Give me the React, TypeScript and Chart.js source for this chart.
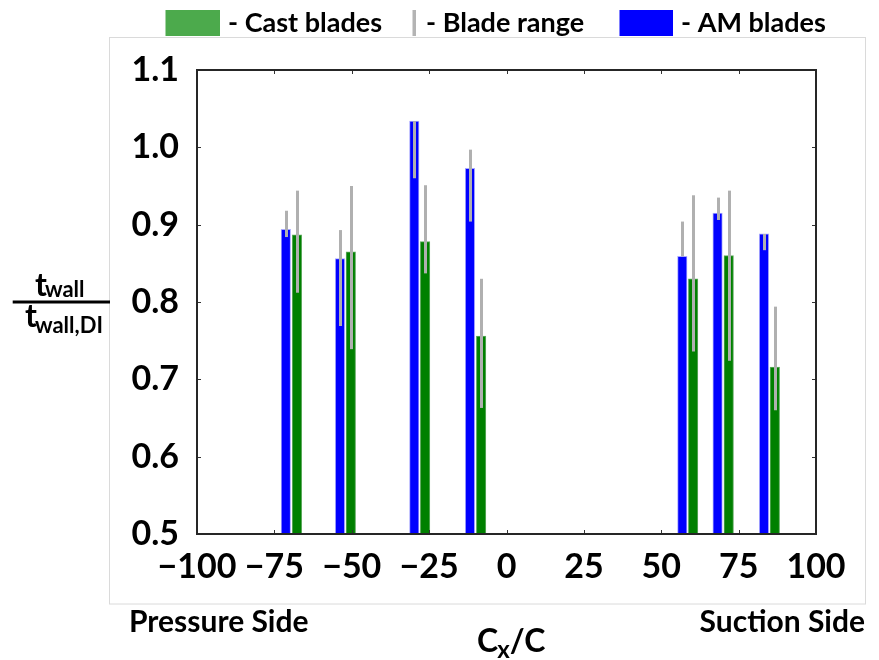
import { useEffect, useRef } from 'react';
import { Chart, registerables } from 'chart.js';

Chart.register(...registerables);

// ---- data ----
const amX = [-71.3, -53.8, -29.8, -11.8, 56.8, 68.2, 83.2];
const castX = [-67.7, -50.3, -26.3, -8.2, 60.3, 71.8, 86.7];

const amValues = [0.894, 0.856, 1.034, 0.973, 0.859, 0.915, 0.888];
const castValues = [0.887, 0.865, 0.878, 0.756, 0.830, 0.860, 0.716];

const amMin = [0.884, 0.769, 0.960, 0.904, 0.859, 0.906, 0.867];
const amMax = [0.918, 0.893, 1.034, 0.997, 0.904, 0.935, 0.888];
const castMin = [0.812, 0.739, 0.837, 0.663, 0.736, 0.724, 0.660];
const castMax = [0.944, 0.950, 0.951, 0.830, 0.938, 0.944, 0.794];

const xTicks = [-100, -75, -50, -25, 0, 25, 50, 75, 100];
const xTickLabels = ['\u2212100', '\u221275', '\u221250', '\u221225', '0', '25', '50', '75', '100'];
const yTicks = [0.5, 0.6, 0.7, 0.8, 0.9, 1.0, 1.1];
const yTickLabels = ['0.5', '0.6', '0.7', '0.8', '0.9', '1.0', '1.1'];

const legendLabels = ['- Cast blades', '- Blade range', '- AM blades'];

const FONT = 'Lato, "Open Sans", sans-serif';

const decor = {
  id: 'decor',
  afterDatasetsDraw(chart: any) {
    const ctx = chart.ctx as CanvasRenderingContext2D;
    const ys = chart.scales.y;
    ctx.save();
    ctx.strokeStyle = '#b0b0b0';
    ctx.lineWidth = 3;
    ctx.lineCap = 'butt';
    const ranges = [
      { mins: amMin, maxs: amMax },
      { mins: castMin, maxs: castMax },
    ];
    ranges.forEach((r, di) => {
      const meta = chart.getDatasetMeta(di);
      meta.data.forEach((el: any, i: number) => {
        const px = Math.round(el.x) + 0.5;
        ctx.beginPath();
        ctx.moveTo(px, ys.getPixelForValue(r.maxs[i]));
        ctx.lineTo(px, ys.getPixelForValue(r.mins[i]));
        ctx.stroke();
      });
    });
    ctx.restore();
  },
  afterDraw(chart: any) {
    const ctx = chart.ctx as CanvasRenderingContext2D;
    const { left, right, top, bottom } = chart.chartArea;
    const xs = chart.scales.x;
    const ys = chart.scales.y;
    ctx.save();

    // figure border
    ctx.strokeStyle = '#dadada';
    ctx.lineWidth = 1;
    ctx.strokeRect(109.5, 37.5, 756, 566.5);

    // inward ticks
    ctx.strokeStyle = '#333';
    ctx.lineWidth = 1;
    ctx.beginPath();
    xTicks.forEach((v) => {
      const px = Math.round(xs.getPixelForValue(v)) + 0.5;
      ctx.moveTo(px, bottom);
      ctx.lineTo(px, bottom - 4);
      ctx.moveTo(px, top);
      ctx.lineTo(px, top + 4);
    });
    yTicks.forEach((v) => {
      const py = Math.round(ys.getPixelForValue(v)) + 0.5;
      ctx.moveTo(left, py);
      ctx.lineTo(left + 4, py);
      ctx.moveTo(right, py);
      ctx.lineTo(right - 4, py);
    });
    ctx.stroke();

    // frame
    ctx.strokeStyle = '#262626';
    ctx.lineWidth = 2;
    ctx.strokeRect(left, top, right - left, bottom - top);

    const txt = (s: string, x: number, y: number, size: number, align: CanvasTextAlign = 'left') => {
      ctx.font = `bold ${size}px ${FONT}`;
      ctx.textAlign = align;
      ctx.textBaseline = 'alphabetic';
      ctx.fillStyle = '#000';
      ctx.fillText(s, x, y);
      return ctx.measureText(s).width;
    };

    // legend
    ctx.fillStyle = '#4caa4c';
    ctx.fillRect(165.5, 10, 54.5, 26);
    txt(legendLabels[0], 228, 32, 27);
    ctx.fillStyle = '#b4b4b4';
    ctx.fillRect(412.5, 10, 3.5, 26);
    txt(legendLabels[1], 426, 32, 27);
    ctx.fillStyle = '#0000ff';
    ctx.fillRect(619.5, 10, 53.5, 26);
    txt(legendLabels[2], 681, 32, 27);

    // y-axis fraction label
    let w = txt('t', 35, 296, 32);
    txt('wall', 35 + w - 2, 297, 22);
    ctx.fillStyle = '#000';
    ctx.fillRect(12.7, 300.5, 97.3, 3);
    w = txt('t', 25, 327, 32);
    txt('wall,DI', 25 + w - 2, 333, 22);

    // side labels
    txt('Pressure Side', 129, 632, 30);
    txt('Suction Side', 865, 632, 30, 'right');

    // x title
    w = txt('C', 477, 652, 32);
    const w2 = txt('x', 477 + w - 1, 658, 24);
    txt('/C', 477 + w + w2 - 1, 652, 32);

    ctx.restore();
  },
};

export default function App() {
  const ref = useRef<HTMLCanvasElement | null>(null);
  useEffect(() => {
    if (!ref.current) return;
    const chart = new Chart(ref.current, {
      type: 'bar',
      data: {
        datasets: [
          {
            label: 'AM blades',
            data: amX.map((x, i) => ({ x, y: amValues[i] })),
            backgroundColor: '#0000ff',
            borderColor: '#a8a8ff',
            borderWidth: 1,
            barThickness: 9.5,
            base: 0.5,
            grouped: false,
          } as any,
          {
            label: 'Cast blades',
            data: castX.map((x, i) => ({ x, y: castValues[i] })),
            backgroundColor: '#008000',
            borderColor: '#60aa60',
            borderWidth: 1,
            barThickness: 9.5,
            base: 0.5,
            grouped: false,
          } as any,
        ],
      },
      options: {
        animation: false,
        responsive: false,
        layout: { padding: { left: 0, top: 70, right: 63, bottom: 0 } },
        plugins: { legend: { display: false }, tooltip: { enabled: false } },
        scales: {
          x: {
            type: 'linear',
            min: -100,
            max: 100,
            offset: false,
            grid: { display: false, drawTicks: false },
            border: { display: false },
            afterBuildTicks: (s: any) => {
              s.ticks = xTicks.map((v) => ({ value: v }));
            },
            afterFit: (s: any) => {
              s.height = 126;
            },
            ticks: {
              autoSkip: false,
              maxRotation: 0,
              minRotation: 0,
              padding: 13,
              color: '#000',
              font: { family: FONT, size: 34, weight: 'bold' },
              callback: (v: any) => xTickLabels[xTicks.indexOf(Number(v))] ?? '',
            },
          },
          y: {
            type: 'linear',
            min: 0.5,
            max: 1.1,
            grid: { display: false, drawTicks: false },
            border: { display: false },
            afterBuildTicks: (s: any) => {
              s.ticks = yTicks.map((v) => ({ value: v }));
            },
            afterFit: (s: any) => {
              s.width = 197;
            },
            ticks: {
              padding: 18,
              color: '#000',
              font: { family: FONT, size: 34, weight: 'bold' },
              callback: (v: any) => {
                const i = yTicks.findIndex((t) => Math.abs(t - Number(v)) < 1e-6);
                return i >= 0 ? yTickLabels[i] : '';
              },
            },
          },
        },
      },
      plugins: [decor],
    } as any);
    return () => chart.destroy();
  }, []);
  return (
    <div style={{ position: 'fixed', left: 0, top: 0, width: 879, height: 660, background: '#fff' }}>
      <canvas ref={ref} width={879} height={660} style={{ width: 879, height: 660, display: 'block' }} />
    </div>
  );
}
